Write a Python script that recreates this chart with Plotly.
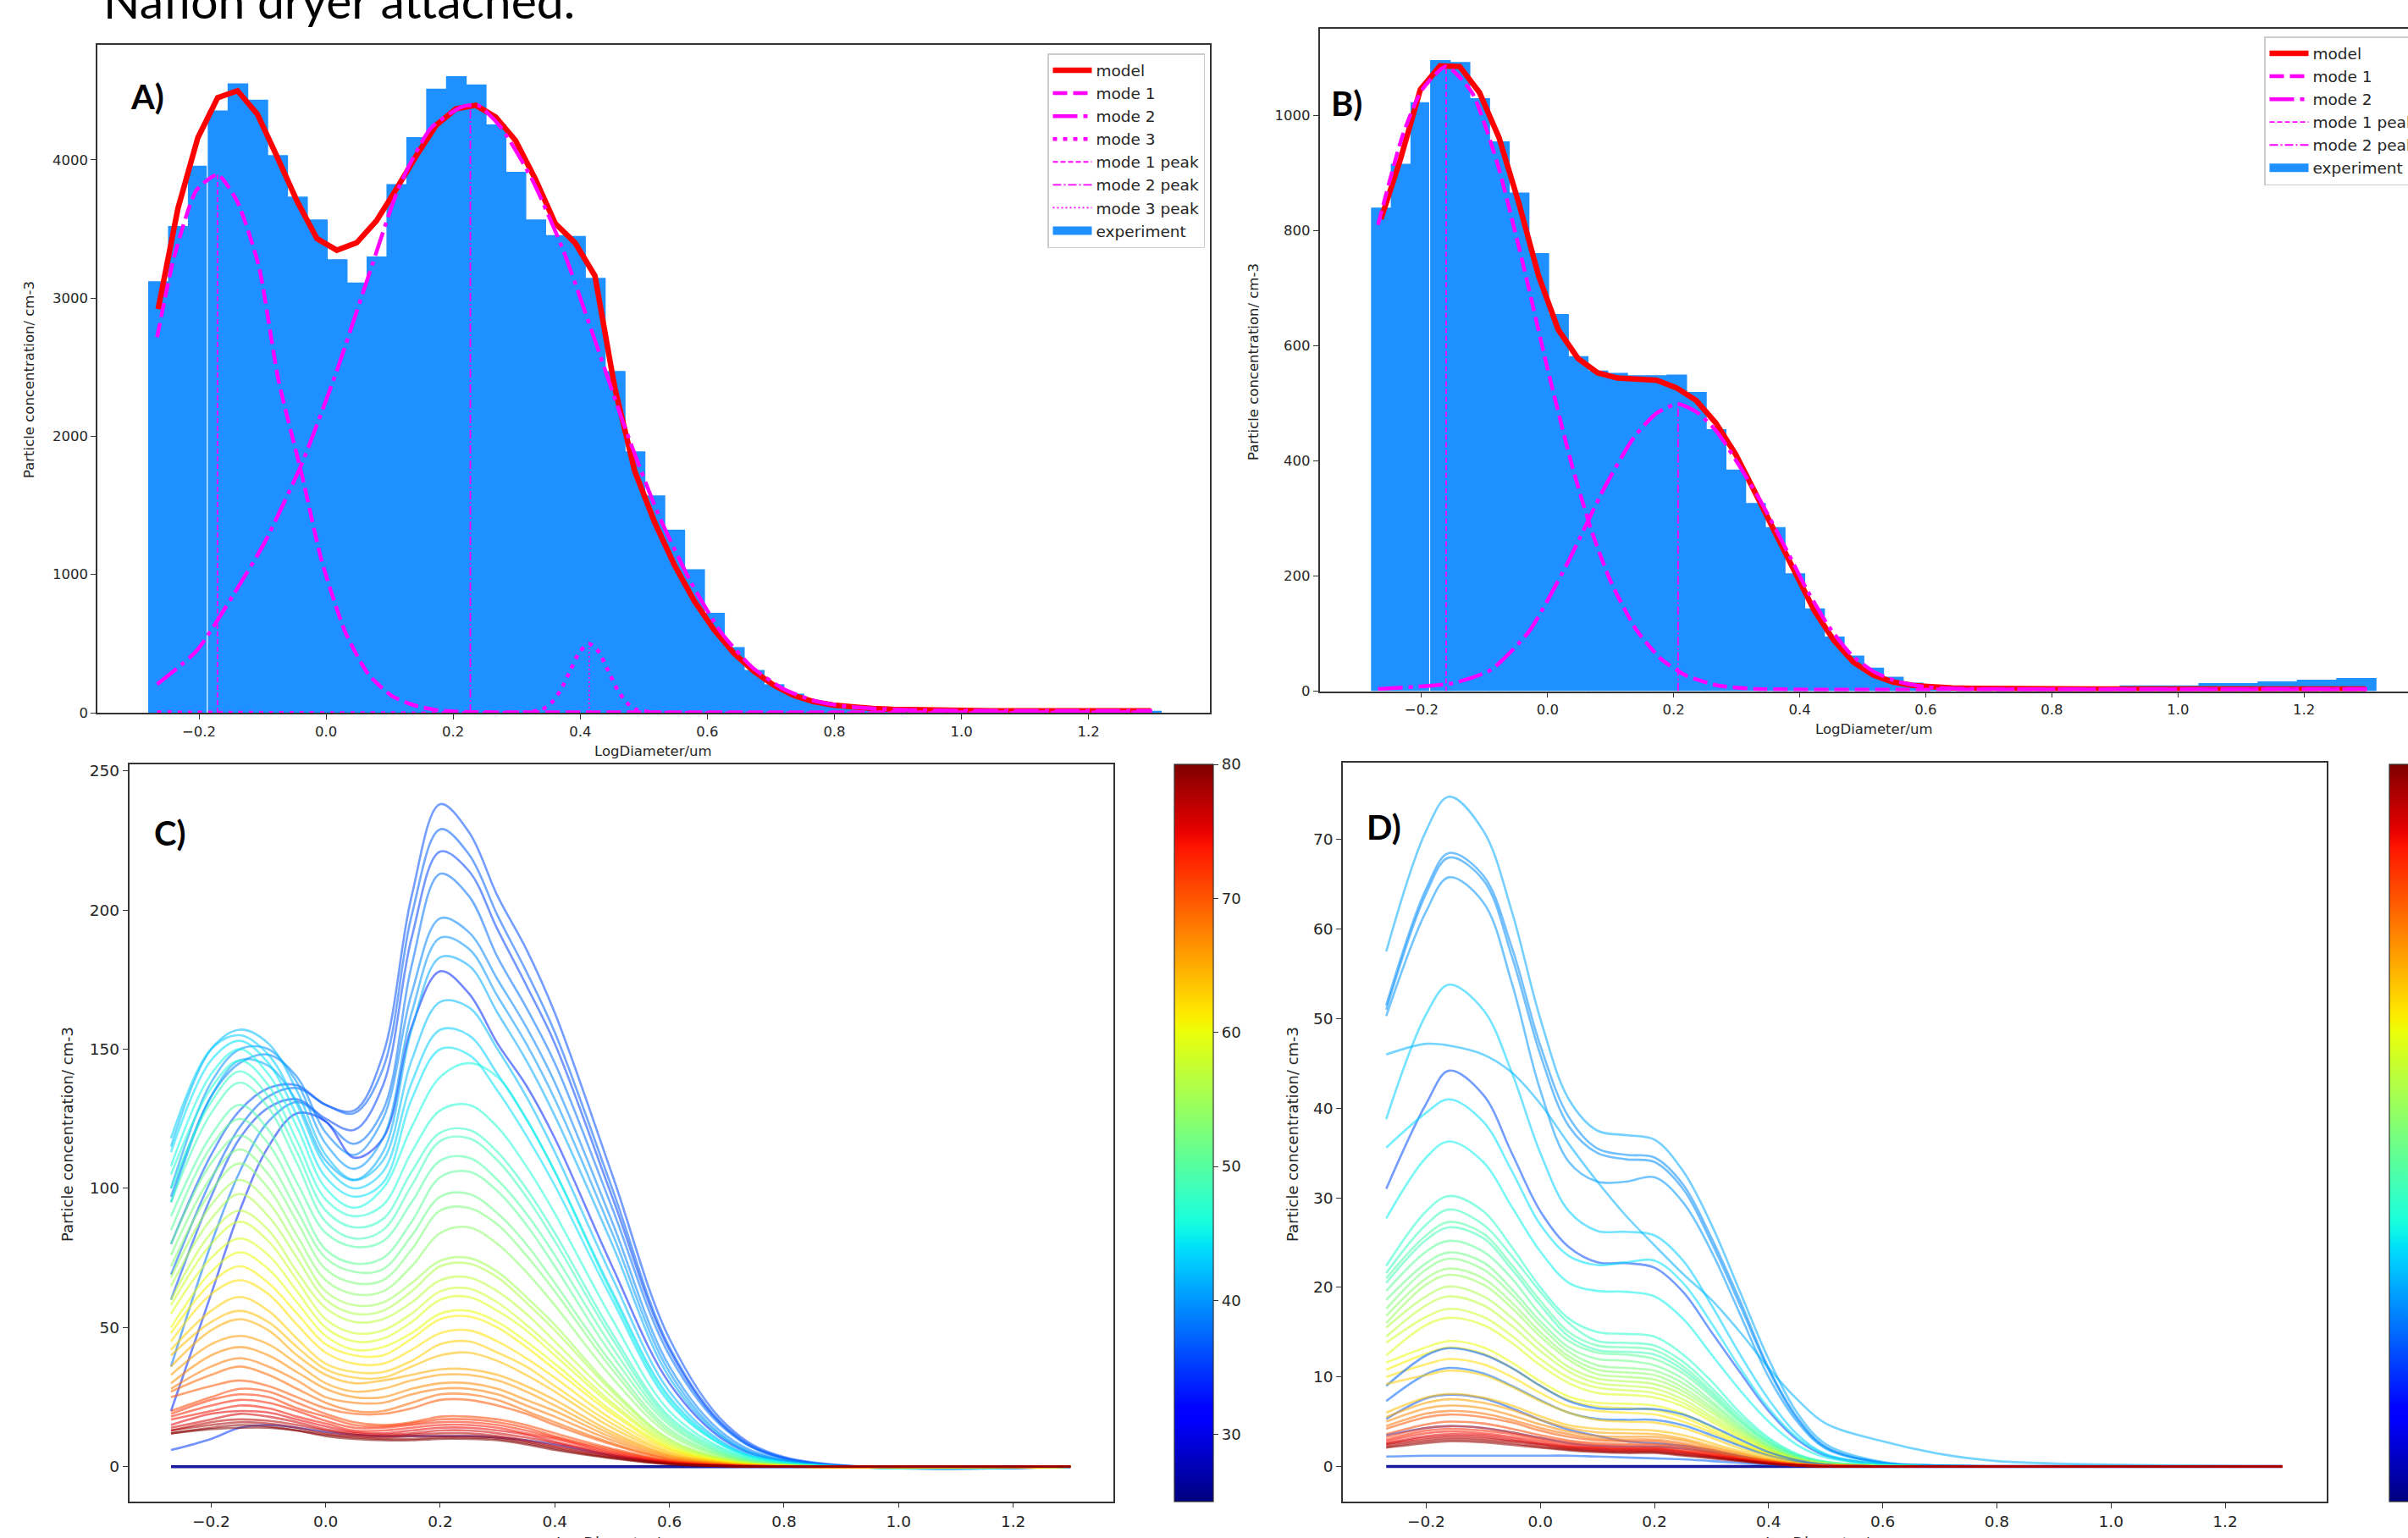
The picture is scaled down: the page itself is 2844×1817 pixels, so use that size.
import numpy as np
import plotly.graph_objects as go

W, H = 2844, 1817

# ---------------- panels A and B: fitted particle size distributions ----------------
BIN_START = -0.28          # left edge of first size bin, log10(um)
BIN_WIDTH = 0.03125

HIST_A = [3122, 3521, 3958, 4357, 4553, 4436, 4034, 3734, 3569, 3281,
          3112, 3301, 3824, 4164, 4515, 4605, 4546, 4257, 3913, 3569,
          3456, 3449, 3146, 2472, 1891, 1572, 1324, 1038, 722, 475,
          309, 206, 138, 86, 55, 40, 30, 24, 20, 18,
          16, 15, 15, 14, 14, 14, 14, 14, 14, 14, 14]
MODEL_A = [2920, 3650, 4160, 4450, 4500, 4330, 4020, 3700, 3430, 3346,
           3400, 3560, 3790, 4030, 4250, 4370, 4395, 4310, 4140, 3860,
           3540, 3400, 3160, 2350, 1750, 1380, 1070, 810, 600, 430,
           300, 200, 125, 80, 55, 40, 30, 24, 20, 18,
           16, 15, 14, 14, 14, 14, 14, 14, 14, 14, 14]
MODE1_A_X = [-0.266, -0.239, -0.204, -0.171, -0.14, -0.106, -0.075, -0.038, -0.007, 0.03,
             0.067, 0.104, 0.14, 0.177, 0.22, 0.3, 0.6, 1.3]
MODE1_A_Y = [2717, 3300, 3780, 3893, 3700, 3232, 2407, 1719, 1100, 585,
             275, 120, 52, 17, 6, 3, 3, 3]
MODE2_A_X = [-0.266, -0.204, -0.145, -0.096, -0.038, 0.017, 0.067, 0.116, 0.165, 0.214,
             0.239, 0.276, 0.325, 0.374, 0.424, 0.473, 0.522, 0.572, 0.621, 0.671,
             0.72, 0.769, 0.819, 0.905, 1.0, 1.3]
MODE2_A_Y = [206, 447, 860, 1238, 1805, 2476, 3164, 3817, 4230, 4384,
             4395, 4230, 3851, 3336, 2682, 2029, 1444, 963, 585, 327,
             172, 86, 45, 21, 15, 14]
MODE3_A_X = [-0.266, 0.31, 0.339, 0.354, 0.369, 0.384, 0.399, 0.414, 0.429, 0.444,
             0.459, 0.474, 0.489, 0.52, 1.3]
MODE3_A_Y = [3, 3, 22, 68, 162, 303, 441, 499, 441, 303, 162, 68, 22, 3, 3]
PEAKS_A_X = [-0.171, 0.227, 0.414]
PEAKS_A_Y = [3893, 4395, 499]

HIST_B = [840, 916, 1023, 1096, 1093, 1030, 955, 866, 761, 655,
          582, 557, 553, 549, 549, 550, 520, 455, 385, 327,
          285, 205, 144, 95, 62, 41, 25, 15, 11, 8,
          7, 6, 6, 5, 5, 5, 5, 5, 10, 10,
          10, 10, 14, 14, 14, 17, 17, 20, 20, 23, 23]
MODEL_B = [820, 925, 1045, 1086, 1085, 1040, 961, 848, 722, 628,
           578, 553, 544, 542, 540, 527, 505, 466, 412, 345,
           275, 205, 140, 88, 50, 28, 16, 10, 7, 5.5,
           5, 4.5, 4.5, 4.5, 4, 4, 4, 4, 4, 4,
           4, 4, 4, 4, 4, 4, 4, 4, 4, 4, 4]
MODE1_B_X = [-0.269, -0.23, -0.2, -0.161, -0.12, -0.08, -0.04, 0.0, 0.04, 0.07,
             0.1, 0.14, 0.18, 0.22, 0.27, 0.33, 0.7, 1.3]
MODE1_B_Y = [810, 965, 1043, 1085, 1040, 918, 747, 560, 387, 278,
             191, 108, 56, 27, 10, 4, 3, 3]
MODE2_B_X = [-0.269, -0.15, -0.09, -0.03, 0.03, 0.089, 0.137, 0.173, 0.207, 0.239,
             0.269, 0.304, 0.34, 0.376, 0.411, 0.447, 0.483, 0.519, 0.555, 0.603,
             0.686, 1.3]
MODE2_B_Y = [4, 14, 37, 103, 219, 351, 441, 483, 499, 483,
             450, 392, 326, 252, 177, 111, 62, 33, 17, 7,
             4, 4]
PEAKS_B_X = [-0.161, 0.207]
PEAKS_B_Y = [1085, 499]

# ---------------- panels C and D: distributions coloured by the colour-bar value ----------------
CBAR_RANGE = [25, 80]
CBAR_TICKS = [30, 40, 50, 60, 70, 80]

LOGD_C = [-0.27, -0.2, -0.15, -0.1, -0.05, 0.0, 0.05, 0.1, 0.15, 0.2,
          0.25, 0.3, 0.35, 0.4, 0.5, 0.6, 0.7, 0.8, 1.3]
VAL_C = [26, 35, 36, 37, 35.5, 38, 34, 39, 40, 41,
         42, 43, 44, 45.5, 46.5, 47.5, 48.5, 49.5, 50.5, 51.5,
         52.5, 53.5, 55, 56, 57, 58, 59, 60, 61, 62,
         63, 64, 65, 66, 67, 68, 69, 70, 71, 72,
         73, 74, 75, 76, 77, 78, 79, 80]
CONC_C = [
    [0, 0, 0, 0, 0, 0, 0, 0, 0, 0, 0, 0, 0, 0, 0, 0, 0, 0, 0],
    [6, 10, 14, 15, 14, 12.5, 11.5, 11, 11, 11, 11, 10.5, 9.5, 8, 4, 1.5, 0.4, 0.1, 0],
    [80, 112, 128, 136, 137, 130, 128, 148, 205, 238, 228, 205, 186, 163, 105, 46, 15, 3.5, 0],
    [69, 103, 122, 133, 136, 130, 127, 143, 198, 229, 220, 198, 178, 156, 100, 43, 14, 3.2, 0],
    [60, 97, 118, 129, 132, 125, 121, 137, 190, 221, 214, 193, 173, 152, 97, 42, 13.5, 3, 0],
    [36, 80, 106, 124, 131, 124, 116, 128, 180, 213, 205, 183, 165, 145, 93, 40, 13, 3, 0],
    [20, 62, 92, 115, 127, 124, 111, 118, 158, 178, 170, 152, 137, 118, 72, 30, 9, 2, 0],
    [97, 133, 145, 148, 140, 120, 112, 125, 170, 197, 192, 175, 158, 138, 88, 36, 11, 2.5, 0],
    [100, 138, 150, 150, 138, 116, 107, 118, 163, 190, 186, 169, 152, 132, 84, 34, 10, 2.2, 0],
    [95, 133, 146, 144, 131, 110, 103, 113, 157, 183, 180, 163, 146, 126, 80, 32, 9.5, 2, 0],
    [115, 150, 157, 152, 135, 112, 103, 110, 146, 167, 165, 150, 133, 113, 68, 27, 8, 1.8, 0],
    [118, 150, 155, 148, 130, 108, 100, 106, 138, 157, 155, 141, 125, 106, 63, 25, 7.5, 1.6, 0],
    [113, 146, 153, 145, 126, 104, 97, 102, 132, 150, 148, 135, 119, 101, 60, 23, 7, 1.5, 0],
    [108, 141, 150, 141, 122, 100, 93, 100, 122, 140, 145, 140, 125, 106, 62, 24, 7, 1.5, 0],
    [105, 136, 146, 137, 117, 96, 90, 94, 113, 128, 130, 122, 108, 91, 53, 20, 6, 1.2, 0],
    [100, 131, 142, 133, 113, 92, 86, 89, 106, 120, 121, 113, 100, 84, 48, 18, 5.5, 1.1, 0],
    [95, 127, 138, 129, 109, 88, 82, 85, 101, 117, 118, 110, 97, 81, 46, 17, 5, 1, 0],
    [90, 119, 130, 121, 102, 84, 79, 81, 95, 110, 111, 103, 91, 76, 43, 16, 4.5, 0.9, 0],
    [85, 115, 125, 116, 97, 78, 73, 75, 88, 104, 106, 99, 87, 72, 40, 15, 4.2, 0.8, 0],
    [80, 109, 119, 110, 92, 75, 70, 71, 83, 97, 98, 91, 80, 66, 37, 13.5, 3.8, 0.7, 0],
    [76, 104, 114, 105, 88, 71, 66, 67, 78, 92, 93, 87, 76, 63, 35, 12.5, 3.5, 0.7, 0],
    [72, 99, 109, 100, 83, 67, 62, 63, 72, 84, 86, 80, 70, 58, 32, 11.5, 3.2, 0.6, 0],
    [68, 94, 103, 95, 79, 63, 58, 59, 66, 74, 75, 70, 61, 51, 28, 10, 2.8, 0.5, 0],
    [65, 89, 98, 90, 75, 60, 55, 56, 63, 72, 73, 68, 59, 49, 27, 9.5, 2.6, 0.5, 0],
    [60, 84, 92, 85, 70, 57, 52, 53, 59, 67, 68, 63, 55, 45, 25, 8.8, 2.4, 0.4, 0],
    [58, 80, 88, 81, 67, 53, 48, 49, 55, 63, 64, 59, 51, 42, 23, 8.2, 2.2, 0.4, 0],
    [55, 75, 82, 76, 63, 50, 45, 46, 52, 60, 61, 56, 49, 40, 22, 7.6, 2, 0.3, 0],
    [50, 70, 77, 71, 59, 47, 42, 43, 48, 55, 56, 52, 45, 37, 20, 7, 1.8, 0.3, 0],
    [48, 66, 72, 66, 55, 44, 40, 40, 46, 53, 54, 50, 43, 35, 19, 6.5, 1.7, 0.3, 0],
    [45, 62, 67, 62, 51, 41, 37, 37, 42, 48, 49, 45, 39, 32, 17, 6, 1.5, 0.2, 0],
    [42, 56, 61, 56, 46, 37, 34, 34, 38, 44, 45, 41, 36, 29, 15.5, 5.3, 1.4, 0.2, 0],
    [40, 52, 56, 52, 43, 35, 32, 32, 36, 40, 41, 38, 33, 27, 14, 4.9, 1.3, 0.2, 0],
    [36, 49, 53, 49, 40, 33, 30, 31, 33, 35, 35, 33, 29, 24, 12.5, 4.3, 1.1, 0.2, 0],
    [33, 44, 47, 44, 37, 30, 27, 28, 31, 33, 33, 31, 27, 22, 11.5, 4, 1, 0.1, 0],
    [30, 40, 43, 40, 34, 28, 25, 25, 28, 30, 30, 28, 24, 20, 10.5, 3.6, 0.9, 0.1, 0],
    [28, 36, 39, 36, 31, 25, 23, 23, 26, 28, 28, 26, 22, 18, 9.5, 3.2, 0.8, 0.1, 0],
    [27, 33, 36, 33, 28, 23, 20, 20, 23, 26, 26, 24, 20, 16, 8.5, 2.8, 0.7, 0.1, 0],
    [25, 29, 31, 29, 25, 21, 19, 19, 21, 24, 24, 22, 19, 15, 8, 2.6, 0.6, 0.1, 0],
    [20, 25, 28, 27, 23, 19, 16, 15, 16, 18, 18, 17, 15, 12, 6.5, 2.2, 0.5, 0.1, 0],
    [19, 24, 26, 25, 21, 18, 15, 14.5, 15.5, 17, 17, 16, 14, 11, 6, 2, 0.5, 0.1, 0],
    [18, 22, 24, 23, 20, 16.5, 14, 14, 15, 16, 16, 15, 13, 10.5, 5.5, 1.8, 0.4, 0, 0],
    [17, 20, 22, 21, 18, 15.5, 13, 13, 14, 15, 15, 14, 12, 10, 5, 1.7, 0.4, 0, 0],
    [15, 19, 20, 19.5, 17, 14.5, 12.5, 12, 13, 14, 14, 13, 11.5, 9, 4.6, 1.5, 0.4, 0, 0],
    [14, 17, 19, 18, 16, 13.5, 12, 11.5, 12, 13, 13, 12, 10.5, 8.5, 4.2, 1.4, 0.3, 0, 0],
    [13, 16, 17, 16.5, 15, 13, 11.5, 11, 11.5, 12, 12, 11, 9.5, 7.5, 3.8, 1.2, 0.3, 0, 0],
    [13, 15, 16, 15.5, 14, 12, 11, 10.5, 11, 11, 11, 10.5, 9, 7, 3.5, 1.1, 0.3, 0, 0],
    [12, 14, 15, 14.5, 13, 11.5, 10.5, 10, 10, 10.5, 10.5, 10, 8.5, 6.5, 3.2, 1, 0.2, 0, 0],
    [12, 13.5, 14, 14, 13, 11, 10, 9.5, 9.5, 10, 10, 9.5, 8, 6, 3, 0.9, 0.2, 0, 0],
]

LOGD_D = [-0.27, -0.2, -0.16, -0.1, -0.05, 0.0, 0.05, 0.1, 0.15, 0.2,
          0.25, 0.3, 0.35, 0.4, 0.45, 0.5, 0.6, 0.7, 0.8, 1.3]
VAL_D = [26, 41, 39.5, 39.5, 40, 43, 41.5, 36, 44, 45,
         47, 48, 49.5, 48.5, 50.5, 51.5, 52.5, 53.5, 54.5,
         56, 57, 58, 59, 60, 61, 62,
         37, 37.5, 36.5, 36, 37,
         63, 64, 65.5, 67, 68.5, 70,
         71, 72, 73, 74, 75, 76, 77, 78, 79]
CONC_D = [
    [0, 0, 0, 0, 0, 0, 0, 0, 0, 0, 0, 0, 0, 0, 0, 0, 0, 0, 0, 0],
    [57.5, 71, 74.8, 71, 62, 50, 41, 37.5, 37, 36.5, 33, 27, 19.5, 12, 6, 2.5, 0.5, 0.1, 0, 0],
    [51.5, 64.5, 68.5, 66, 58, 47, 39, 35.5, 34.8, 34.5, 31.5, 25.5, 18.5, 11, 5.5, 2.2, 0.4, 0.1, 0, 0],
    [51, 64, 68, 65.5, 57, 46, 38, 35, 34.3, 34, 31, 25, 18, 10.8, 5.3, 2.1, 0.4, 0.1, 0, 0],
    [50.3, 62, 65.8, 63, 54, 42, 34, 31.8, 31.8, 32.3, 29.5, 24, 17, 10, 5, 2, 0.4, 0.1, 0, 0],
    [38.8, 50.5, 53.8, 51, 44, 35, 28.5, 26.3, 26.2, 25.8, 23, 18, 12.5, 7.5, 3.6, 1.4, 0.3, 0, 0, 0],
    [46, 47.2, 47, 46, 44, 40.5, 36, 31.8, 28, 24.7, 21.5, 18.6, 15, 11, 7.5, 4.8, 2.8, 1.4, 0.6, 0],
    [31, 40.5, 44.2, 41.5, 35, 28.5, 24.5, 22.8, 22.7, 22.2, 19.5, 15, 10.5, 6.2, 3, 1.2, 0.2, 0, 0, 0],
    [35.6, 39.5, 41, 38.5, 33, 27, 23.5, 22.5, 22.8, 23, 20.5, 16, 11, 6.5, 3.2, 1.3, 0.2, 0, 0, 0],
    [27.7, 34.5, 36.3, 34, 29, 24, 20.5, 19.6, 19.5, 19, 16.5, 12.5, 8.5, 5, 2.4, 1, 0.2, 0, 0, 0],
    [22.4, 28.5, 30.2, 28.5, 24.5, 20, 16.5, 15, 14.8, 14.5, 12.5, 9.5, 6, 3.2, 1.4, 0.5, 0.1, 0, 0, 0],
    [21.6, 27, 28.7, 27, 23.5, 19.5, 16, 14, 13.8, 13.5, 11.7, 8.8, 5.6, 3, 1.3, 0.5, 0.1, 0, 0, 0],
    [21, 25.8, 27.3, 26, 22.5, 18.5, 15, 13.5, 13.3, 13, 11.2, 8.4, 5.3, 2.8, 1.2, 0.5, 0.1, 0, 0, 0],
    [20.5, 25.3, 26.7, 25.5, 22, 18, 14.5, 13, 12.8, 12.5, 10.8, 8.1, 5.1, 2.7, 1.2, 0.4, 0.1, 0, 0, 0],
    [19.6, 24, 25.2, 24, 21, 17, 14, 12.7, 12.5, 12, 10.4, 7.8, 4.9, 2.6, 1.1, 0.4, 0.1, 0, 0, 0],
    [18.6, 22.7, 23.9, 22.8, 19.8, 16.2, 13.3, 12, 11.8, 11.3, 9.8, 7.3, 4.6, 2.4, 1, 0.4, 0.1, 0, 0, 0],
    [17.6, 22, 23.2, 22, 19.2, 15.7, 12.8, 11.3, 11, 10.7, 9.3, 7, 4.4, 2.3, 1, 0.4, 0, 0, 0, 0],
    [16.8, 21, 22.1, 21, 18.3, 15, 12.3, 10.8, 10.5, 10.2, 8.8, 6.6, 4.2, 2.2, 0.9, 0.3, 0, 0, 0, 0],
    [16, 20.3, 21.4, 20.3, 17.7, 14.5, 11.9, 10.3, 10, 9.7, 8.4, 6.3, 4, 2.1, 0.9, 0.3, 0, 0, 0, 0],
    [15.5, 19, 20.1, 19, 16.6, 13.6, 11.1, 9.8, 9.5, 9.2, 8, 6, 3.8, 2, 0.8, 0.3, 0, 0, 0, 0],
    [14.5, 18, 19, 18, 15.7, 12.9, 10.6, 9.3, 9, 8.7, 7.5, 5.6, 3.6, 1.9, 0.8, 0.3, 0, 0, 0, 0],
    [13.8, 16.7, 17.6, 16.7, 14.6, 12, 9.9, 8.8, 8.5, 8.2, 7.1, 5.3, 3.4, 1.8, 0.7, 0.3, 0, 0, 0, 0],
    [12.4, 15.8, 16.6, 15.8, 13.8, 11.3, 9.3, 8.2, 8, 7.7, 6.7, 5, 3.2, 1.7, 0.7, 0.2, 0, 0, 0, 0],
    [11.6, 13.3, 14, 13.3, 11.6, 9.5, 7.8, 7.1, 7, 6.8, 5.9, 4.4, 2.8, 1.5, 0.6, 0.2, 0, 0, 0, 0],
    [10.8, 12.6, 13.3, 12.6, 11, 9, 7.4, 6.7, 6.5, 6.3, 5.5, 4.1, 2.6, 1.4, 0.6, 0.2, 0, 0, 0, 0],
    [10, 11.4, 12, 11.4, 10, 8.2, 6.7, 6.2, 6, 5.8, 5, 3.8, 2.4, 1.3, 0.5, 0.2, 0, 0, 0, 0],
    [9, 12.4, 13.2, 12.5, 11, 9, 7.3, 6.5, 6.4, 6.4, 5.8, 4.5, 3, 1.6, 0.7, 0.2, 0, 0, 0, 0],
    [7.3, 10.3, 11, 10.4, 9, 7.4, 6, 5.3, 5.2, 5.2, 4.6, 3.5, 2.3, 1.2, 0.5, 0.2, 0, 0, 0, 0],
    [5.3, 7.6, 8, 7.6, 6.5, 5.2, 4.1, 3.4, 2.8, 2.6, 2.3, 1.8, 1.2, 0.6, 0.3, 0.1, 0, 0, 0, 0],
    [3.5, 4.3, 4.5, 4.3, 3.8, 3.2, 2.6, 2.3, 2.2, 2.2, 2, 1.6, 1.1, 0.6, 0.3, 0.1, 0, 0, 0, 0],
    [1.1, 1.2, 1.2, 1.2, 1.2, 1.2, 1.2, 1.1, 1, 0.9, 0.8, 0.6, 0.4, 0.2, 0.1, 0, 0, 0, 0, 0],
    [9.2, 10.2, 10.7, 10.2, 8.9, 7.3, 6, 5.2, 5, 4.9, 4.3, 3.2, 2, 1.1, 0.4, 0.1, 0, 0, 0, 0],
    [6, 7.7, 8.1, 7.7, 6.8, 5.6, 4.6, 4.2, 4.1, 4, 3.5, 2.6, 1.7, 0.9, 0.3, 0.1, 0, 0, 0, 0],
    [5.5, 7.1, 7.5, 7.1, 6.3, 5.2, 4.3, 3.8, 3.7, 3.6, 3.1, 2.3, 1.5, 0.8, 0.3, 0.1, 0, 0, 0, 0],
    [5, 6.5, 6.8, 6.5, 5.7, 4.7, 3.9, 3.4, 3.3, 3.3, 2.9, 2.1, 1.4, 0.7, 0.3, 0.1, 0, 0, 0, 0],
    [4.5, 5.9, 6.2, 5.9, 5.2, 4.3, 3.6, 3.1, 3, 3, 2.6, 1.9, 1.2, 0.6, 0.2, 0.1, 0, 0, 0, 0],
    [4.2, 5.5, 5.8, 5.5, 4.9, 4, 3.3, 2.9, 2.8, 2.8, 2.4, 1.8, 1.1, 0.6, 0.2, 0.1, 0, 0, 0, 0],
    [3.6, 4.7, 5, 4.8, 4.2, 3.5, 2.9, 2.6, 2.5, 2.5, 2.2, 1.6, 1, 0.5, 0.2, 0.1, 0, 0, 0, 0],
    [3.3, 4.3, 4.5, 4.3, 3.8, 3.2, 2.7, 2.4, 2.3, 2.3, 2, 1.5, 0.9, 0.5, 0.2, 0.1, 0, 0, 0, 0],
    [3, 4, 4.2, 4, 3.6, 3, 2.5, 2.2, 2.1, 2.1, 1.8, 1.4, 0.9, 0.4, 0.2, 0, 0, 0, 0, 0],
    [2.8, 3.7, 3.9, 3.7, 3.3, 2.8, 2.3, 2.1, 2, 2, 1.7, 1.3, 0.8, 0.4, 0.2, 0, 0, 0, 0, 0],
    [2.6, 3.4, 3.6, 3.5, 3.1, 2.6, 2.2, 2, 1.9, 1.9, 1.6, 1.2, 0.8, 0.4, 0.1, 0, 0, 0, 0, 0],
    [2.5, 3.2, 3.4, 3.3, 2.9, 2.5, 2.1, 1.9, 1.8, 1.8, 1.5, 1.1, 0.7, 0.4, 0.1, 0, 0, 0, 0, 0],
    [2.4, 3, 3.2, 3.1, 2.8, 2.4, 2, 1.8, 1.7, 1.7, 1.4, 1.1, 0.7, 0.3, 0.1, 0, 0, 0, 0, 0],
    [2.2, 2.8, 3, 2.9, 2.6, 2.2, 1.9, 1.7, 1.6, 1.6, 1.3, 1, 0.6, 0.3, 0.1, 0, 0, 0, 0, 0],
    [2.1, 2.6, 2.8, 2.7, 2.4, 2.1, 1.8, 1.6, 1.5, 1.5, 1.2, 0.9, 0.6, 0.3, 0.1, 0, 0, 0, 0, 0],
]

X_TICKS = [-0.2, 0.0, 0.2, 0.4, 0.6, 0.8, 1.0, 1.2]
X_TICKTEXT = ['\u22120.2', '0.0', '0.2', '0.4', '0.6', '0.8', '1.0', '1.2']
Y_TICKS_A = [0, 1000, 2000, 3000, 4000]
Y_TICKS_B = [0, 200, 400, 600, 800, 1000]
Y_TICKS_C = [0, 50, 100, 150, 200, 250]
Y_TICKS_D = [0, 10, 20, 30, 40, 50, 60, 70]


# ---------------- helpers ----------------
def px(x):
    return x / W


def py(y):
    return 1 - y / H


def jet(t):
    # matplotlib 'jet'
    t = min(max(t, 0.0), 1.0)
    r = np.interp(t, [0, 0.35, 0.66, 0.89, 1], [0, 0, 1, 1, 0.5])
    g = np.interp(t, [0, 0.125, 0.375, 0.64, 0.91, 1], [0, 0, 1, 1, 0, 0])
    b = np.interp(t, [0, 0.11, 0.34, 0.65, 1], [0.5, 1, 1, 0, 0])
    return int(r * 255), int(g * 255), int(b * 255)


JET = [[i / 63, 'rgb(%d,%d,%d)' % jet(i / 63)] for i in range(64)]

RED = '#ff0000'
MAG = '#ff00ff'
BAR = '#1e90ff'
FONT = 'DejaVu Sans'

fig = go.Figure()


def add_fit_panel(xa, ya, leg, hist, model, modes, peaks_x, peaks_y):
    centers = BIN_START + BIN_WIDTH * (np.arange(len(hist)) + 0.5)
    fig.add_trace(go.Scatter(x=centers, y=model, mode='lines', name='model',
                             line=dict(color=RED, width=6.5),
                             xaxis=xa, yaxis=ya, legend=leg))
    dashes = ['17px,7px', '29px,7px,5px,7px', '5px,7px']
    for i, (mx, my) in enumerate(modes):
        fig.add_trace(go.Scatter(x=mx, y=my, mode='lines', name='mode %d' % (i + 1),
                                 line=dict(color=MAG, width=4.5, dash=dashes[i],
                                           shape='spline', smoothing=0.6),
                                 xaxis=xa, yaxis=ya, legend=leg))
    pdash = ['6px,3px', '10px,3px,2px,3px', '2px,3px']
    for i, (p, h) in enumerate(zip(peaks_x, peaks_y)):
        fig.add_trace(go.Scatter(x=[p, p], y=[0, h], mode='lines', name='mode %d peak' % (i + 1),
                                 line=dict(color=MAG, width=1.8, dash=pdash[i]),
                                 xaxis=xa, yaxis=ya, legend=leg))
    left = BIN_START + BIN_WIDTH * np.arange(len(hist))
    widths = np.full(len(hist), BIN_WIDTH * 1.04)   # slight overlap hides anti-alias seams
    widths[2] = BIN_WIDTH - 0.0016                  # the one thin white seam of the original
    fig.add_trace(go.Bar(x=left, y=hist, width=widths, offset=0, showlegend=False,
                         marker=dict(color=BAR, line=dict(width=0)),
                         xaxis=xa, yaxis=ya))
    # legend swatch drawn as a wide patch like matplotlib's
    fig.add_trace(go.Scatter(x=[None], y=[None], mode='lines', name='experiment',
                             line=dict(color=BAR, width=14),
                             xaxis=xa, yaxis=ya, legend=leg))


add_fit_panel('x', 'y', 'legend', HIST_A, MODEL_A,
              [(MODE1_A_X, MODE1_A_Y), (MODE2_A_X, MODE2_A_Y), (MODE3_A_X, MODE3_A_Y)],
              PEAKS_A_X, PEAKS_A_Y)
add_fit_panel('x2', 'y2', 'legend2', HIST_B, MODEL_B,
              [(MODE1_B_X, MODE1_B_Y), (MODE2_B_X, MODE2_B_Y)],
              PEAKS_B_X, PEAKS_B_Y)


def add_curves(xa, ya, logd, vals, conc, cax):
    lo, hi = CBAR_RANGE
    for v, row in zip(vals, conc):
        r, g, b = jet((v - lo) / (hi - lo))
        zero = max(row) == 0
        fig.add_trace(go.Scatter(
            x=logd, y=row, mode='lines', showlegend=False, hoverinfo='skip',
            line=dict(color='rgba(%d,%d,%d,%.2f)' % (r, g, b, 0.9 if zero else 0.55),
                      width=3.5 if zero else 2.6, shape='spline', smoothing=1.0),
            xaxis=xa, yaxis=ya))
    # invisible carrier for the colour bar
    fig.add_trace(go.Scatter(x=[None, None], y=[None, None], mode='markers', showlegend=False,
                             marker=dict(color=CBAR_RANGE, coloraxis=cax),
                             xaxis=xa, yaxis=ya))


add_curves('x3', 'y3', LOGD_C, VAL_C, CONC_C, 'coloraxis')
add_curves('x4', 'y4', LOGD_D, VAL_D, CONC_D, 'coloraxis2')


def axstyle(dom, rng, anchor, tickvals, size, ticktext=None, mirror=True):
    d = dict(domain=dom, range=rng, anchor=anchor, showline=True, linecolor='#333333',
             linewidth=1.5, mirror=mirror, ticks='outside', ticklen=6, tickwidth=1.3,
             tickcolor='#333333', showgrid=False, zeroline=False, tickvals=tickvals,
             tickfont=dict(size=size, color='#262626', family=FONT))
    if ticktext is not None:
        d['ticktext'] = ticktext
    return d


def cbar(x_left, labels=True):
    return dict(cmin=CBAR_RANGE[0], cmax=CBAR_RANGE[1], colorscale=JET,
                colorbar=dict(x=px(x_left), xanchor='left', xpad=0, ypad=0,
                              thickness=46, thicknessmode='pixels',
                              len=(1774 - 903) / H, lenmode='fraction',
                              y=py((903 + 1774) / 2), yanchor='middle',
                              outlinewidth=1.2, outlinecolor='#333333',
                              ticks='outside', ticklen=6, tickwidth=1.2, tickcolor='#333333',
                              tickvals=CBAR_TICKS, showticklabels=labels,
                              tickfont=dict(size=18, family=FONT, color='#262626')))


legend_style = dict(xanchor='left', yanchor='top', bgcolor='rgba(255,255,255,0.85)',
                    bordercolor='#cccccc', borderwidth=1.5, tracegroupgap=0, itemwidth=46,
                    font=dict(size=18.5, family=FONT, color='#262626'))

annotations = [
    dict(text='Nafion dryer attached.', x=px(120), y=py(0), xanchor='left', yanchor='middle',
         font=dict(family='Lato', size=57, color='black')),
]
for txt, x, y in [('A)', 152, 114), ('B)', 1570, 122), ('C)', 180, 984), ('D)', 1612, 977)]:
    annotations.append(dict(text='<b>%s</b>' % txt, x=px(x), y=py(y), xanchor='left',
                            yanchor='middle', font=dict(family='Lato', size=40, color='black')))
for x, y, s in [(35, 449, 16.5), (1481, 427, 16.5), (79, 1340, 18), (1526, 1340, 18)]:
    annotations.append(dict(text='Particle concentration/ cm-3', x=px(x), y=py(y), textangle=-90,
                            xanchor='center', yanchor='middle',
                            font=dict(family=FONT, size=s, color='#262626')))
for x, y, s in [(772, 887, 16.5), (2213, 861, 16.5), (732, 1822, 18), (2160, 1822, 18)]:
    annotations.append(dict(text='LogDiameter/um', x=px(x), y=py(y),
                            xanchor='center', yanchor='middle',
                            font=dict(family=FONT, size=s, color='#262626')))
for a in annotations:
    a.update(xref='paper', yref='paper', showarrow=False)

fig.update_layout(
    width=W, height=H,
    margin=dict(l=0, r=0, t=0, b=0, autoexpand=False),
    paper_bgcolor='white', plot_bgcolor='white',
    font=dict(family=FONT, color='#262626'),
    barmode='overlay',
    xaxis=axstyle([px(115), px(1429)], [-0.36, 1.391], 'y', X_TICKS, 16.5, X_TICKTEXT),
    yaxis=axstyle([py(842), py(53)], [0, 4832], 'x', Y_TICKS_A, 16.5),
    xaxis2=axstyle([px(1558.5), 1.0], [-0.3617, 1.365], 'y2', X_TICKS, 16.5, X_TICKTEXT),
    yaxis2=axstyle([py(816.6), py(33.7)], [0, 1151], 'x2', Y_TICKS_B, 16.5, mirror=False),
    xaxis3=axstyle([px(152.6), px(1315)], [-0.343, 1.375], 'y3', X_TICKS, 18.5, X_TICKTEXT),
    yaxis3=axstyle([py(1773.6), py(902.7)], [-12.4, 252.4], 'x3', Y_TICKS_C, 18.5),
    xaxis4=axstyle([px(1586), px(2748)], [-0.346, 1.378], 'y4', X_TICKS, 18.5, X_TICKTEXT),
    yaxis4=axstyle([py(1774), py(901)], [-3.93, 78.6], 'x4', Y_TICKS_D, 18.5),
    coloraxis=cbar(1387),
    coloraxis2=cbar(2822, labels=False),
    legend=dict(x=px(1237), y=py(63), **legend_style),
    legend2=dict(x=px(2674), y=py(43), **legend_style),
    annotations=annotations,
    showlegend=True,
)

fig.write_html("out.html", config={'displayModeBar': False},
               post_script="document.body.style.margin='0';")
